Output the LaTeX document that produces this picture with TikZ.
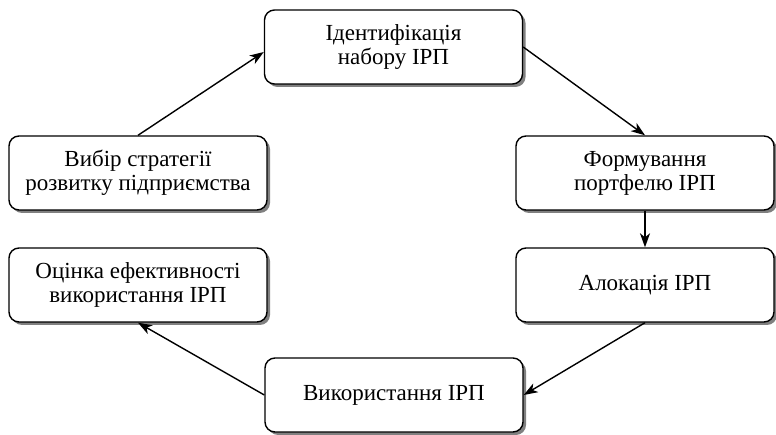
\documentclass[tikz,border=0pt]{standalone}
\usepackage{fontspec}
\setmainfont{Liberation Serif}
\usetikzlibrary{arrows.meta,shadows}

\tikzset{
  stage/.style={draw, line width=1.4pt, rounded corners=10pt, fill=white,
    minimum width=258pt, minimum height=74pt, inner sep=0pt, align=center,
    font=\fontsize{23}{24}\selectfont,
    drop shadow={shadow xshift=3pt, shadow yshift=-3pt, fill=black!50, opacity=1}},
  flow/.style={line width=1.4pt, -{Stealth[length=14pt,width=10pt,inset=4pt]}}
}

\begin{document}
\begin{tikzpicture}[x=1pt,y=-1pt]
    \useasboundingbox (0,0) rectangle (776,435);

    \node[stage] (ident) at (393.5,47) {Ідентифікація\\набору ІРП};
    \node[stage] (choice) at (138,173) {Вибір стратегії\\розвитку підприємства};
    \node[stage] (forming) at (645,173) {Формування\\портфелю ІРП};
    \node[stage] (alloc) at (645,285) {Алокація ІРП};
    \node[stage] (assess) at (138,285) {Оцінка ефективності\\використання ІРП};
    \node[stage] (usage) at (394,395) {Використання ІРП};

    %\draw[flow] (choice.north) -- (ident.west);
    \draw[flow] (choice.north) -- ([yshift=-5pt]ident.west);
    \draw[flow] (ident.east) -- (forming.north);
    \draw[flow] (forming.south) -- (alloc.north);
    \draw[flow] (alloc.south) -- (usage.east);
    \draw[flow] (usage.west) -- (assess.south);
\end{tikzpicture}
\end{document}
